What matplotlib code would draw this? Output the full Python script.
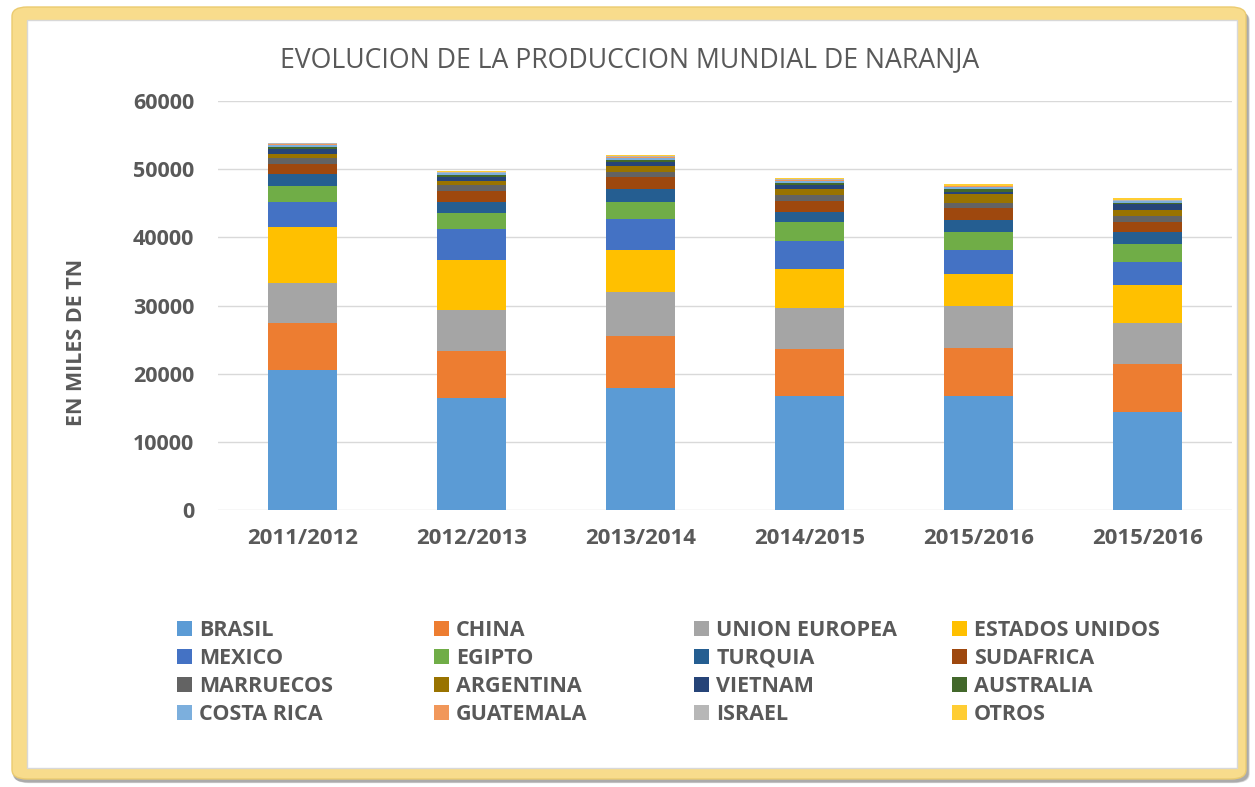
import matplotlib
matplotlib.use("Agg")
import matplotlib.pyplot as plt
from matplotlib.patches import FancyBboxPatch, Rectangle, Patch
import numpy as np

plt.rcParams['font.family'] = ['Open Sans', 'DejaVu Sans']

categories = ["2011/2012", "2012/2013", "2013/2014", "2014/2015", "2015/2016", "2015/2016"]
countries = ["BRASIL", "CHINA", "UNION EUROPEA", "ESTADOS UNIDOS", "MEXICO", "EGIPTO",
             "TURQUIA", "SUDAFRICA", "MARRUECOS", "ARGENTINA", "VIETNAM", "AUSTRALIA",
             "COSTA RICA", "GUATEMALA", "ISRAEL", "OTROS"]

brasil    = [20500, 16400, 17900, 16700, 16700, 14400]
china     = [7000, 6900, 7600, 6900, 7000, 7000]
ue        = [5800, 6000, 6500, 6000, 6200, 6000]
eeuu      = [8200, 7400, 6100, 5700, 4700, 5600]
mexico    = [3700, 4500, 4600, 4100, 3500, 3400]
egipto    = [2300, 2300, 2500, 2800, 2700, 2600]
turquia   = [1800, 1700, 1900, 1500, 1700, 1800]
sudafrica = [1500, 1600, 1700, 1600, 1800, 1400]
marruecos = [800, 900, 800, 900, 700, 900]
argentina = [600, 500, 800, 900, 1300, 900]
vietnam   = [700, 600, 700, 600, 400, 900]
australia = [400, 300, 300, 300, 400, 200]
costarica = [300, 300, 300, 300, 300, 200]
guatemala = [100, 100, 100, 100, 100, 100]
israel    = [100, 100, 100, 100, 100, 100]
otros     = [100, 200, 200, 200, 200, 200]

series = [brasil, china, ue, eeuu, mexico, egipto, turquia, sudafrica, marruecos,
          argentina, vietnam, australia, costarica, guatemala, israel, otros]
colors = ["#5B9BD5", "#ED7D31", "#A5A5A5", "#FFC000", "#4472C4", "#70AD47",
          "#255E91", "#9E480E", "#636363", "#997300", "#264478", "#43682B",
          "#7CAFDD", "#F1975A", "#B7B7B7", "#FFCD33"]

W, H = 1255, 787
fig = plt.figure(figsize=(W / 100, H / 100), dpi=100)
fig.patch.set_facecolor("white")

def fx(px):
    return px / W

def fy(py):
    return 1 - py / H

# frame: shadow, yellow glow, white panel
for off, a in [(6, 0.15), (4, 0.2), (2, 0.25)]:
    fig.patches.append(FancyBboxPatch((fx(12 + off * 0.3), fy(782 + off * 0.2)),
                                      fx(1236), 1 - fy(772), boxstyle="round,pad=0,rounding_size=0.012",
                                      transform=fig.transFigure, facecolor="#555555", alpha=a,
                                      edgecolor="none", zorder=0))
fig.patches.append(FancyBboxPatch((fx(12), fy(779)), fx(1234), 1 - fy(772),
                                  boxstyle="round,pad=0,rounding_size=0.012",
                                  transform=fig.transFigure, facecolor="#F8DC8C",
                                  edgecolor="#EBCB70", lw=1.0, zorder=0.5))
fig.patches.append(Rectangle((fx(27), fy(768)), fx(1210), 1 - fy(748),
                             transform=fig.transFigure, facecolor="white",
                             edgecolor="#D8D8D8", lw=1.0, zorder=0.8))

ax = fig.add_axes([fx(218), fy(510), fx(1232 - 218), fy(101) - fy(510)])
ax.set_zorder(2)
ax.patch.set_alpha(0)

x = np.arange(len(categories))
bottom = np.zeros(len(categories))
for vals, col, name in zip(series, colors, countries):
    ax.bar(x, vals, width=0.405, bottom=bottom, color=col, label=name, zorder=3)
    bottom += np.array(vals)

ax.set_xlim(-0.5, len(categories) - 0.5)
ax.set_ylim(0, 60000)
ax.set_yticks(np.arange(0, 60001, 10000))
ax.set_yticklabels([str(v) for v in range(0, 60001, 10000)])
ax.set_xticks(x)
ax.set_xticklabels(categories)
ax.yaxis.grid(True, color="#D9D9D9", lw=1.0, zorder=0)
ax.set_axisbelow(True)
for s in ax.spines.values():
    s.set_visible(False)
ax.tick_params(axis="y", length=0, pad=17, labelsize=15.5, labelcolor="#595959")
ax.tick_params(axis="x", length=0, pad=13, labelsize=16, labelcolor="#595959")
for lab in ax.get_xticklabels() + ax.get_yticklabels():
    lab.set_fontweight("bold")

fig.text(fx(630), fy(60), "EVOLUCION DE LA PRODUCCION MUNDIAL DE NARANJA",
         ha="center", va="center", fontsize=19.2, color="#595959", zorder=3)
fig.text(fx(76), fy(342), "EN MILES DE TN", rotation=90, ha="center", va="center",
         fontsize=15.5, fontweight="bold", color="#595959", zorder=3)

# legend: four columns of four rows (row-wise order as in the reference)
col_x = [177, 434, 694, 952]
for c in range(4):
    idx = [r * 4 + c for r in range(4)]
    handles = [Patch(facecolor=colors[i], edgecolor="none") for i in idx]
    labels = [countries[i] for i in idx]
    leg = fig.legend(handles, labels, loc="upper left",
                     bbox_to_anchor=(fx(col_x[c]), fy(620)), frameon=False,
                     prop={"size": 15.5, "weight": "bold"}, labelcolor="#595959",
                     handlelength=0.68, handleheight=0.68, handletextpad=0.35,
                     labelspacing=0.32, borderpad=0, borderaxespad=0)
    leg.set_zorder(3)

fig.savefig("out.png", dpi=100)
